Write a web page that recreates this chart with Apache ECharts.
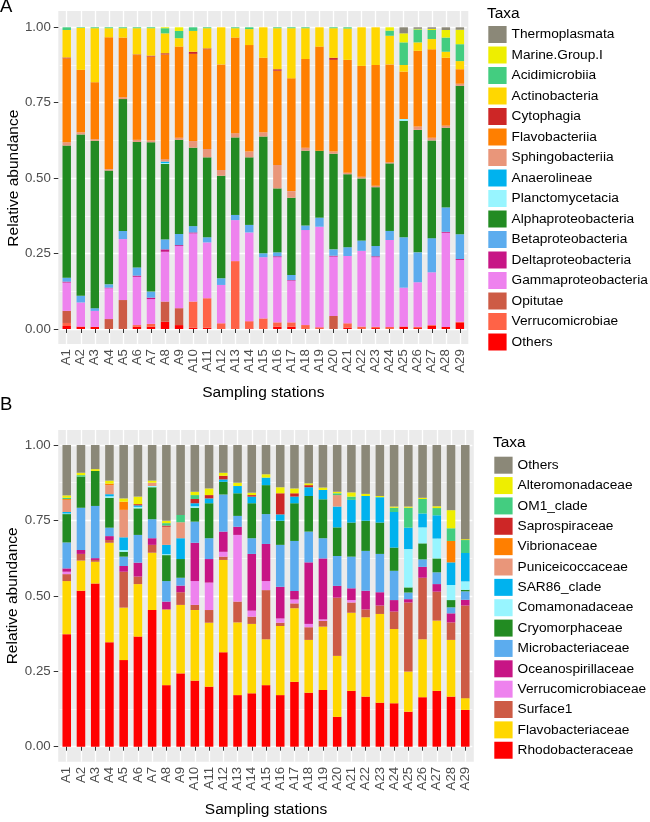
<!DOCTYPE html>
<html><head><meta charset="utf-8">
<script src="https://cdn.jsdelivr.net/npm/echarts@6/dist/echarts.min.js"></script>
<style>html,body{margin:0;padding:0;background:#fff}#c{width:650px;height:822px}</style>
</head><body><div id="c"></div>
<script>
// ---------------- data ----------------
const stations = ['A1','A2','A3','A4','A5','A6','A7','A8','A9','A10','A11','A12','A13','A14','A15','A16','A17','A18','A19','A20','A21','A22','A23','A24','A25','A26','A27','A28','A29'];
const yTicks = [0, 0.25, 0.5, 0.75, 1];

// Panel A (class level) — stacking order bottom -> top
const taxaA = ['Others','Verrucomicrobiae','Opitutae','Gammaproteobacteria','Deltaproteobacteria','Betaproteobacteria','Alphaproteobacteria','Planctomycetacia','Anaerolineae','Sphingobacteriia','Flavobacteriia','Cytophagia','Actinobacteria','Acidimicrobiia','Marine.Group.I','Thermoplasmata'];
const A_Others = [.010,.008,.007,0,0,.008,.008,.024,.013,.004,.004,0,0,.002,0,.008,.008,0,0,0,.005,0,.003,0,.008,.003,.010,.007,.022];
const A_Verrucomicrobiae = [.010,0,0,0,0,.005,.009,0,0,.087,.098,.019,.225,.024,.035,.014,.014,.013,.006,0,.014,.008,.004,.007,0,.004,.003,0,.002];
const A_Opitutae = [.040,0,0,.033,.096,0,0,.067,.056,0,0,0,0,0,0,0,0,0,0,.043,0,0,0,0,0,0,0,0,0];
const A_Gammaproteobacteria = [.094,.080,.053,.102,.202,.160,.082,.165,.206,.226,.185,.127,.136,.294,.203,.216,.138,.315,.333,.197,.223,.251,.231,.288,.129,.148,.175,.312,.205];
const A_Deltaproteobacteria = [.003,0,0,.002,0,.004,.005,.008,.003,.003,0,0,0,0,0,.003,.002,0,0,.003,0,0,.003,0,0,0,0,.003,.003];
const A_Betaproteobacteria = [.013,.022,.009,.011,.027,.027,.020,.033,.037,.021,.017,.022,.017,.025,.013,.013,.017,.015,.030,.021,.029,.034,.034,.030,.167,.099,.113,.081,.082];
const A_Alphaproteobacteria = [.438,.535,.555,.377,.437,.416,.495,.250,.312,.260,.265,.340,.257,.224,.387,.212,.256,.248,.222,.317,.242,.206,.195,.224,.386,.406,.324,.264,.492];
const A_Planctomycetacia = [0,0,0,0,0,0,0,.003,0,0,0,0,0,0,0,0,0,0,0,0,0,0,0,0,.006,0,0,0,0];
const A_Anaerolineae = [0,0,0,0,0,0,0,.005,0,0,0,0,0,0,0,0,0,0,0,0,0,0,0,0,0,0,0,0,0];
const A_Sphingobacteriia = [.011,.007,.005,.005,.006,.007,.006,.008,.007,.022,.028,.019,.014,.019,.014,.078,.022,.010,0,.007,.005,.006,.005,.004,0,.011,.009,.007,.007];
const A_Flavobacteriia = [.278,.207,.189,.437,.198,.281,.278,.347,.302,.289,.330,.350,.317,.353,.247,.312,.374,.294,.345,.304,.374,.367,.400,.324,.157,.251,.293,.225,.048];
const A_Cytophagia = [.003,0,0,0,0,.002,.003,.004,0,.007,.003,0,0,0,0,.005,0,0,0,.007,0,0,0,0,0,0,0,0,0];
const A_Actinobacteria = [.091,.139,.179,.030,.031,.087,.091,.066,.028,.069,.067,.123,.031,.053,.101,.136,.166,.102,.064,.098,.104,.128,.125,.095,.022,.028,.034,.020,.027];
const A_Acidimicrobiia = [.009,.002,.003,.003,.003,.003,.003,.017,.024,.012,.003,0,.003,.006,0,.003,.003,.003,0,.003,.004,0,0,.017,.075,.043,.030,.047,.056];
const A_MarineGroupI = [0,0,0,0,0,0,0,.003,.012,0,0,0,0,0,0,0,0,0,0,0,0,0,0,.011,.030,.002,.004,.025,.048];
const A_Thermoplasmata = [0,0,0,0,0,0,0,0,0,0,0,0,0,0,0,0,0,0,0,0,0,0,0,0,.020,.005,.005,.009,.008];
const valuesA = [A_Others,A_Verrucomicrobiae,A_Opitutae,A_Gammaproteobacteria,A_Deltaproteobacteria,A_Betaproteobacteria,A_Alphaproteobacteria,A_Planctomycetacia,A_Anaerolineae,A_Sphingobacteriia,A_Flavobacteriia,A_Cytophagia,A_Actinobacteria,A_Acidimicrobiia,A_MarineGroupI,A_Thermoplasmata];
const colorsA = ['#FF0000','#FF6347','#CD5B45','#EE82EE','#C71585','#5CACEE','#228B22','#98F5FF','#00B2EE','#E9967A','#FF7F00','#CD2626','#FFD700','#43CD80','#EEEE00','#8B8878'];

// Panel B (family level) — stacking order bottom -> top
const taxaB = ['Rhodobacteraceae','Flavobacteriaceae','Surface1','Verrucomicrobiaceae','Oceanospirillaceae','Microbacteriaceae','Cryomorphaceae','Comamonadaceae','SAR86_clade','Puniceicoccaceae','Vibrionaceae','Saprospiraceae','OM1_clade','Alteromonadaceae','Others'];
const B_Rhodobacteraceae = [.373,.517,.541,.346,.287,.365,.453,.204,.243,.219,.199,.313,.171,.177,.204,.171,.215,.179,.188,.099,.185,.166,.146,.144,.116,.164,.185,.166,.122];
const B_Flavobacteriaceae = [.176,.100,.072,.330,.174,.174,.190,.251,.227,.234,.212,.306,.241,.230,.152,.229,.244,.175,.210,.202,.259,.263,.294,.246,.133,.192,.233,.188,.039];
const B_Surface1 = [.023,.022,.006,.009,.119,.025,.026,0,.042,.017,.042,.011,.069,.024,.163,.011,.016,.042,.019,.193,.034,.026,.028,.058,.229,.204,.096,.058,.307];
const B_Verrucomicrobiaceae = [.008,0,0,0,0,0,0,0,0,.079,.091,.016,.221,.020,.030,.014,.013,.011,.005,0,.008,0,0,0,0,0,0,0,0];
const B_Oceanospirillaceae = [.011,.013,.006,.013,.019,.046,.022,.026,.022,.127,.078,.067,.027,.188,.123,.105,.028,.204,.202,.039,.039,.062,.044,.038,.011,.036,.025,.030,.019];
const B_Microbacteriaceae = [.086,.140,.173,.028,.031,.092,.063,.068,.026,.070,.069,.123,.036,.052,.099,.139,.166,.102,.067,.099,.105,.132,.127,.097,.022,.025,.039,.020,.028];
const B_Cryomorphaceae = [.094,.103,.116,.099,.016,.088,.106,.086,.062,.046,.116,.042,.075,.116,.096,.080,.125,.118,.129,.095,.113,.100,.104,.077,.017,.053,.046,.024,.005];
const B_Comamonadaceae = [.002,0,0,.005,.006,.005,.004,.003,0,.005,0,0,0,0,0,0,0,0,0,0,0,0,0,0,.127,.053,.066,.050,.028];
const B_SAR86_clade = [.005,0,0,.007,.042,.005,0,.031,.069,.010,.016,.008,.024,.022,.025,.021,.022,.029,.031,.069,.075,.082,.084,.118,.071,.046,.077,.075,.094];
const B_Puniceicoccaceae = [.040,0,0,.030,.091,0,.011,.060,.053,0,0,0,0,0,0,0,0,0,0,.038,0,0,0,0,0,0,0,0,0];
const B_Vibrionaceae = [.003,0,0,.005,.027,0,0,0,0,0,0,0,0,0,0,0,0,0,0,0,0,0,0,0,0,0,0,.071,0];
const B_Saprospiraceae = [0,0,0,0,0,.004,0,.004,0,.014,.011,.012,0,.005,0,.070,.011,.007,0,0,0,0,0,0,0,0,0,0,0];
const B_OM1_clade = [.004,.005,0,0,0,0,0,.008,.024,.013,0,0,0,0,0,0,0,0,0,.006,.011,0,0,.014,.066,.048,.024,.042,.043];
const B_Alteromonadaceae = [.008,.008,.006,.010,.011,.025,.007,.008,0,.011,.022,.010,.011,.008,.011,.020,.016,.006,.008,.005,.014,.007,.004,.004,.004,.004,.006,.060,.003];
const B_Others = [.167,.092,.080,.118,.177,.171,.118,.251,.232,.155,.144,.092,.125,.158,.097,.140,.144,.127,.141,.155,.157,.162,.169,.204,.204,.175,.203,.216,.312];
const valuesB = [B_Rhodobacteraceae,B_Flavobacteriaceae,B_Surface1,B_Verrucomicrobiaceae,B_Oceanospirillaceae,B_Microbacteriaceae,B_Cryomorphaceae,B_Comamonadaceae,B_SAR86_clade,B_Puniceicoccaceae,B_Vibrionaceae,B_Saprospiraceae,B_OM1_clade,B_Alteromonadaceae,B_Others];
const colorsB = ['#FF0000','#FFD700','#CD5B45','#EE82EE','#C71585','#5CACEE','#228B22','#98F5FF','#00B2EE','#E9967A','#FF7F00','#CD2626','#43CD80','#EEEE00','#8B8878'];

// ---------------- layout ----------------
const FONT = "'Liberation Sans', Arial, sans-serif";
const PA = {left: 58.3, top: 11, width: 410, height: 333.1, dataTop: 27.3, dataH: 301.7};
const PB = {left: 58.2, top: 429.9, width: 415.6, height: 331.9, dataTop: 445, dataH: 301.7};
const N = stations.length, EXP = 0.6;

function panelGrids(P) {
  const u = P.width / (N - 1 + 2 * EXP);
  return [
    {left: P.left, top: P.top, width: P.width, height: P.height, show: true, backgroundColor: '#EBEBEB', borderWidth: 0, outerBoundsMode: 'none', containLabel: false},
    {left: P.left + EXP * u, top: P.top, width: (N - 1) * u, height: P.height, show: false, outerBoundsMode: 'none', containLabel: false},
    {left: P.left + (EXP - 0.5) * u, top: P.dataTop, width: N * u, height: P.dataH, show: false, outerBoundsMode: 'none', containLabel: false}
  ];
}
function offsets(P) {
  const u = P.width / (N - 1 + 2 * EXP);
  return {yOff: (EXP - 0.5) * u, xOff: P.top + P.height - (P.dataTop + P.dataH)};
}
const grids = panelGrids(PA).concat(panelGrids(PB));
const oA = offsets(PA), oB = offsets(PB);

const hiddenX = g => ({gridIndex: g, type: 'value', min: 0, max: 1, show: false});
const hiddenY = g => ({gridIndex: g, type: 'value', min: 0, max: 1, show: false});
const vlineX = g => ({gridIndex: g, type: 'category', data: stations, boundaryGap: false,
  axisLine: {show: false}, axisTick: {show: false}, axisLabel: {show: false},
  splitLine: {show: true, interval: 0, lineStyle: {color: '#FFFFFF', width: 1.3}}});
const dataX = (g, off, gap) => ({gridIndex: g, type: 'category', data: stations, boundaryGap: true, offset: off,
  axisLine: {show: false},
  axisTick: {show: true, alignWithLabel: true, interval: 0, length: 4, lineStyle: {color: '#333333', width: 1}},
  axisLabel: {rotate: 90, interval: 0, fontSize: 13.3, color: '#4D4D4D', fontFamily: FONT, margin: 5, padding: [9, 0, 0, 0]},
  splitLine: {show: false},
  name: 'Sampling stations', nameLocation: 'middle', nameGap: gap, nameMoveOverlap: false,
  nameTextStyle: {fontSize: 15.5, color: '#000', fontFamily: FONT}});
const dataY = (g, off) => ({gridIndex: g, type: 'value', min: 0, max: 1, interval: 0.25, offset: off,
  axisLine: {show: false},
  axisTick: {show: true, length: 4.5, lineStyle: {color: '#333333', width: 1}},
  axisLabel: {formatter: v => v.toFixed(2), fontSize: 13.3, color: '#4D4D4D', fontFamily: FONT, margin: 7.5},
  splitLine: {show: true, lineStyle: {color: '#FFFFFF', width: 1.3}},
  minorTick: {show: false, splitNumber: 2},
  minorSplitLine: {show: true, lineStyle: {color: '#FFFFFF', width: 0.6}},
  name: 'Relative abundance', nameLocation: 'middle', nameGap: 37, nameMoveOverlap: false,
  nameTextStyle: {fontSize: 15.5, color: '#000', fontFamily: FONT}});

const xAxes = [hiddenX(0), vlineX(1), dataX(2, oA.xOff, 41), hiddenX(3), vlineX(4), dataX(5, oB.xOff, 40)];
const yAxes = [hiddenY(0), hiddenY(1), dataY(2, oA.yOff), hiddenY(3), hiddenY(4), dataY(5, oB.yOff)];

const series = [];
taxaA.forEach((name, i) => series.push({
  name, type: 'bar', stack: 'A', xAxisIndex: 2, yAxisIndex: 2, barWidth: '60%',
  data: valuesA[i], itemStyle: {color: colorsA[i]}, emphasis: {disabled: true}
}));
taxaB.forEach((name, i) => series.push({
  name, type: 'bar', stack: 'B', xAxisIndex: 5, yAxisIndex: 5, barWidth: '60%',
  data: valuesB[i], itemStyle: {color: colorsB[i]}, emphasis: {disabled: true}
}));

const legendA = taxaA.slice().reverse();
const legendB = taxaB.slice().reverse().map(n => ({name: n, itemStyle: {color: colorsB[taxaB.indexOf(n)]}}));
const legendText = {fontSize: 13.7, color: '#000', fontFamily: FONT};

const chart = echarts.init(document.getElementById('c'), null, {renderer: 'canvas'});
chart.setOption({
  animation: false,
  textStyle: {fontFamily: FONT},
  title: [
    {text: 'A', left: 0, top: -3, padding: 0, textStyle: {fontSize: 18.5, fontWeight: 'normal', color: '#000', fontFamily: FONT}},
    {text: 'Taxa', left: 487, top: 6, padding: 0, textStyle: {fontSize: 15.5, fontWeight: 'normal', color: '#000', fontFamily: FONT}},
    {text: 'B', left: 0, top: 395, padding: 0, textStyle: {fontSize: 18.5, fontWeight: 'normal', color: '#000', fontFamily: FONT}},
    {text: 'Taxa', left: 493, top: 435, padding: 0, textStyle: {fontSize: 15.5, fontWeight: 'normal', color: '#000', fontFamily: FONT}}
  ],
  legend: [
    {orient: 'vertical', left: 488.3, top: 26, padding: 0, itemWidth: 18.3, itemHeight: 17, itemGap: 3.5,
     icon: 'rect', selectedMode: false, data: legendA, textStyle: legendText},
    {orient: 'vertical', left: 494.3, top: 456.7, padding: 0, itemWidth: 18.3, itemHeight: 17, itemGap: 3.36,
     icon: 'rect', selectedMode: false, data: legendB, textStyle: legendText}
  ],
  grid: grids,
  xAxis: xAxes,
  yAxis: yAxes,
  series
});
</script></body></html>
